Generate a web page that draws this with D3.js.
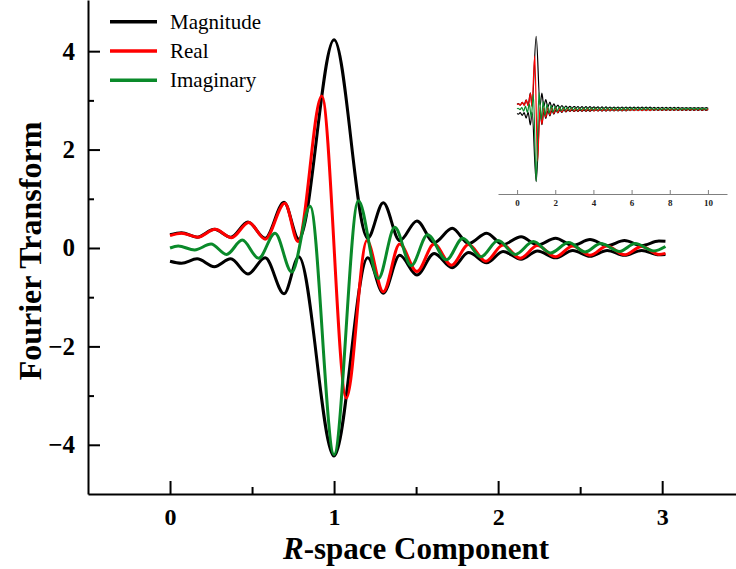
<!DOCTYPE html>
<html>
<head>
<meta charset="utf-8">
<script src="https://cdn.jsdelivr.net/npm/d3@7"></script>
<style>
  body { margin: 0; background: #fff; }
  svg { display: block; font-family: "Liberation Serif", "Times New Roman", serif; }
</style>
</head>
<body>
<svg id="chart" width="736" height="569"></svg>
<script>
"use strict";

// data: extrema (R, value)
// magnitude is drawn as a +/- envelope
const magX  = [0, 0.07, 0.165, 0.27, 0.37, 0.475, 0.58, 0.695, 0.785, 1.0, 1.205, 1.30, 1.40, 1.505, 1.61, 1.72, 1.82, 1.93, 2.03, 2.14, 2.24, 2.35, 2.455, 2.56, 2.665, 2.77, 2.875, 2.98, 3.02];
const magY  = [0.27, 0.31, 0.22, 0.38, 0.22, 0.53, 0.20, 0.93, 0.18, 4.23, 0.20, 0.92, 0.15, 0.55, 0.11, 0.40, 0.09, 0.30, 0.07, 0.23, 0.06, 0.20, 0.05, 0.17, 0.05, 0.15, 0.05, 0.14, 0.135];

const realX = [0, 0.07, 0.17, 0.275, 0.375, 0.48, 0.58, 0.70, 0.78, 0.925, 1.075, 1.20, 1.30, 1.40, 1.505, 1.61, 1.715, 1.82, 1.925, 2.03, 2.135, 2.24, 2.35, 2.455, 2.56, 2.665, 2.77, 2.875, 2.98, 3.02];
const realY = [0.25, 0.30, 0.22, 0.38, 0.21, 0.52, 0.18, 0.91, 0.13, 3.09, -3.05, 0.15, -0.89, 0.08, -0.48, 0.08, -0.35, 0.07, -0.27, 0.06, -0.21, 0.05, -0.18, 0.04, -0.15, 0.04, -0.14, 0.03, -0.13, -0.11];

const imagX = [0, 0.05, 0.15, 0.25, 0.345, 0.44, 0.54, 0.64, 0.742, 0.854, 1.0, 1.148, 1.27, 1.37, 1.47, 1.57, 1.685, 1.785, 1.895, 2.0, 2.105, 2.215, 2.32, 2.43, 2.53, 2.625, 2.74, 2.835, 2.95, 3.02];
const imagY = [0.0, 0.04, -0.04, 0.08, -0.13, 0.16, -0.21, 0.30, -0.49, 0.85, -4.2, 0.96, -0.62, 0.42, -0.36, 0.27, -0.24, 0.20, -0.18, 0.15, -0.13, 0.13, -0.10, 0.11, -0.08, 0.09, -0.07, 0.09, -0.06, 0.03];

// tail after R = 3 (only visible in the inset), one value per half period
const tailStep = 0.105;
const magTailY  = [0.05, 0.14, 0.05, 0.13, 0.05, 0.13, 0.05, 0.13, 0.05, 0.12, 0.05, 0.12, 0.04, 0.12, 0.04, 0.12, 0.04, 0.11, 0.04, 0.11, 0.04, 0.11, 0.04, 0.11, 0.04, 0.11, 0.04, 0.10, 0.04, 0.10, 0.04, 0.10, 0.03, 0.10, 0.03, 0.10, 0.03, 0.10, 0.03, 0.09, 0.03, 0.09, 0.03, 0.09, 0.03, 0.09, 0.03, 0.09, 0.03, 0.09, 0.03, 0.09, 0.03, 0.08, 0.03, 0.08, 0.03, 0.08, 0.03, 0.08, 0.03, 0.08, 0.03, 0.08, 0.03, 0.08, 0.03];
const realTailY = [0.03, -0.13, 0.03, -0.12, 0.03, -0.12, 0.03, -0.12, 0.03, -0.11, 0.03, -0.11, 0.02, -0.11, 0.02, -0.11, 0.02, -0.10, 0.02, -0.10, 0.02, -0.10, 0.02, -0.10, 0.02, -0.10, 0.02, -0.09, 0.02, -0.09, 0.02, -0.09, 0.02, -0.09, 0.02, -0.09, 0.02, -0.09, 0.02, -0.08, 0.02, -0.08, 0.02, -0.08, 0.02, -0.08, 0.02, -0.08, 0.02, -0.08, 0.02, -0.08, 0.02, -0.07, 0.02, -0.07, 0.02, -0.07, 0.02, -0.07, 0.02, -0.07, 0.02, -0.07, 0.02, -0.07, 0.02];
const imagTailY = [0.08, -0.06, 0.08, -0.06, 0.08, -0.06, 0.08, -0.06, 0.07, -0.06, 0.07, -0.05, 0.07, -0.05, 0.07, -0.05, 0.07, -0.05, 0.07, -0.05, 0.06, -0.05, 0.06, -0.05, 0.06, -0.05, 0.06, -0.05, 0.06, -0.04, 0.06, -0.04, 0.06, -0.04, 0.06, -0.04, 0.06, -0.04, 0.05, -0.04, 0.05, -0.04, 0.05, -0.04, 0.05, -0.04, 0.05, -0.04, 0.05, -0.04, 0.05, -0.04, 0.05, -0.04, 0.05, -0.03, 0.05, -0.03, 0.05, -0.03, 0.05, -0.03, 0.05, -0.03, 0.05, -0.03, 0.05];
const magTailStart = 3.085, realTailStart = 3.085, imagTailStart = 3.055;

// ticks and labels
const xTicks = [0, 1, 2, 3];
const xMinorTicks = [0.5, 1.5, 2.5];
const yTicks = [-4, -2, 0, 2, 4];
const yMinorTicks = [-3, -1, 1, 3];
const insetTicks = [0, 2, 4, 6, 8, 10];
const legendLabels = ["Magnitude", "Real", "Imaginary"];
const seriesColors = ["#000000", "#ff0000", "#0a8a2a"];


// helpers
const zip = (xs, ys) => xs.map((v, i) => [v, ys[i]]);
const withTail = (xs, ys, start, tail) => zip(xs, ys).concat(tail.map((v, i) => [start + i * tailStep, v]));
const fmtMinus = d => d < 0 ? "\u2212" + Math.abs(d) : String(d);

const magMain  = zip(magX, magY);
const realMain = zip(realX, realY);
const imagMain = zip(imagX, imagY);
const magFull  = withTail(magX, magY, magTailStart, magTailY);
const realFull = withTail(realX, realY, realTailStart, realTailY);
const imagFull = withTail(imagX, imagY, imagTailStart, imagTailY);
const neg = arr => arr.map(d => [d[0], -d[1]]);


const svg = d3.select("#chart");


// scales for the main plot
const scaleX = d3.scaleLinear().domain([-0.5, 3.45]).range([88, 736]);
const scaleY = d3.scaleLinear().domain([-5, 5.04]).range([494, 0]);


// x axis (inward ticks)
svg.append("g")
.attr("class", "x_axis")
.attr("transform", `translate(0, ${scaleY(-5)})`)
.call(d3.axisBottom(scaleX).tickValues(xTicks).tickSize(-13).tickSizeOuter(0).tickPadding(14).tickFormat(fmtMinus))
.call(g => g.selectAll("text").attr("font-size", 24).attr("font-weight", "bold").attr("fill", "#000").attr("font-family", "Liberation Serif"))
.call(g => g.selectAll("line, path").attr("stroke", "#000").attr("stroke-width", 2));

svg.append("g")
.attr("transform", `translate(0, ${scaleY(-5)})`)
.call(d3.axisBottom(scaleX).tickValues(xMinorTicks).tickSize(-7).tickFormat(""))
.call(g => g.select(".domain").remove())
.call(g => g.selectAll("line").attr("stroke", "#000").attr("stroke-width", 2));


// y axis (inward ticks)
svg.append("g")
.attr("class", "y_axis")
.attr("transform", `translate(${scaleX(-0.5)}, 0)`)
.call(d3.axisLeft(scaleY).tickValues(yTicks).tickSize(-12).tickSizeOuter(0).tickPadding(13).tickFormat(fmtMinus))
.call(g => g.selectAll("text").attr("font-size", 25).attr("font-weight", "bold").attr("fill", "#000").attr("font-family", "Liberation Serif"))
.call(g => g.selectAll("line, path").attr("stroke", "#000").attr("stroke-width", 2));

svg.append("g")
.attr("transform", `translate(${scaleX(-0.5)}, 0)`)
.call(d3.axisLeft(scaleY).tickValues(yMinorTicks).tickSize(-6).tickFormat(""))
.call(g => g.select(".domain").remove())
.call(g => g.selectAll("line").attr("stroke", "#000").attr("stroke-width", 2));


// axis titles
const xTitle = svg.append("text")
.attr("x", 416)
.attr("y", 559)
.attr("text-anchor", "middle")
.attr("font-size", 31)
.attr("font-weight", "bold");
xTitle.append("tspan").attr("font-style", "italic").text("R");
xTitle.append("tspan").text("-space Component");

svg.append("text")
.attr("transform", "translate(41, 251) rotate(-90)")
.attr("text-anchor", "middle")
.attr("font-size", 32)
.attr("font-weight", "bold")
.text("Fourier Transform");


// lines, main plot
const line = d3.line()
.x(d => scaleX(d[0]))
.y(d => scaleY(d[1]))
.curve(d3.curveMonotoneX);

const mainSeries = [
    {data: magMain, color: seriesColors[0]},
    {data: neg(magMain), color: seriesColors[0]},
    {data: realMain, color: seriesColors[1]},
    {data: imagMain, color: seriesColors[2]}
];

svg.append("g")
.attr("class", "lines")
.selectAll("path")
.data(mainSeries)
.join("path")
.attr("d", d => line(d.data))
.attr("fill", "none")
.attr("stroke", d => d.color)
.attr("stroke-width", 3)
.attr("stroke-linejoin", "round");


// legend
const legend = svg.append("g").attr("class", "legend");
legendLabels.forEach((lab, i) => {
    const ly = 21.7 + i * 29.3;
    legend.append("line")
    .attr("x1", 110).attr("x2", 157)
    .attr("y1", ly).attr("y2", ly)
    .attr("stroke", seriesColors[i])
    .attr("stroke-width", 3.5);
    legend.append("text")
    .attr("x", 170)
    .attr("y", ly + 7)
    .attr("font-size", 21)
    .text(lab);
});


// inset
const insetX = d3.scaleLinear().domain([-1, 11]).range([498, 727]);
const insetY = d3.scaleLinear().domain([-4.95, 5]).range([194, 23]);

const insetLine = d3.line()
.x(d => insetX(d[0]))
.y(d => insetY(d[1]))
.curve(d3.curveMonotoneX);

const inset = svg.append("g").attr("class", "inset");

inset.append("g")
.attr("transform", `translate(0, ${insetY(-4.95)})`)
.call(d3.axisBottom(insetX).tickValues(insetTicks).tickSize(-4).tickSizeOuter(0).tickPadding(6))
.call(g => g.selectAll("line, path").attr("stroke", "#7f7f7f").attr("stroke-width", 1))
.call(g => g.selectAll("text").attr("font-size", 9).attr("font-weight", "bold").attr("fill", "#222").attr("font-family", "Liberation Serif"));

inset.append("g")
.selectAll("path")
.data([
    {data: magFull, color: seriesColors[0]},
    {data: neg(magFull), color: seriesColors[0]},
    {data: realFull, color: seriesColors[1]},
    {data: imagFull, color: seriesColors[2]}
])
.join("path")
.attr("d", d => insetLine(d.data))
.attr("fill", "none")
.attr("stroke", d => d.color)
.attr("stroke-width", 1.2);
</script>
</body>
</html>
